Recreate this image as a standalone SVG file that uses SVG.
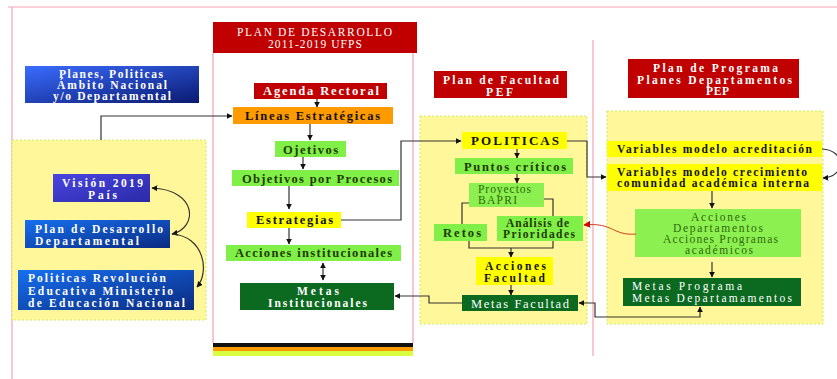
<svg xmlns="http://www.w3.org/2000/svg" width="837" height="379" viewBox="0 0 837 379">
<defs>
<linearGradient id="gBlue" x1="0" y1="0" x2="1" y2="1"><stop offset="0" stop-color="#3a6cff"/><stop offset="1" stop-color="#0a1a70"/></linearGradient>
<linearGradient id="gBlue2" x1="0" y1="0" x2="1" y2="1"><stop offset="0" stop-color="#1670f0"/><stop offset="1" stop-color="#0b2a80"/></linearGradient>
<linearGradient id="gViolet" x1="0" y1="0" x2="1" y2="1"><stop offset="0" stop-color="#4a44e0"/><stop offset="1" stop-color="#2a2aa8"/></linearGradient>
<marker id="ah" viewBox="0 0 10 10" refX="9" refY="5" markerWidth="6" markerHeight="6" orient="auto-start-reverse" markerUnits="userSpaceOnUse"><path d="M0,0 L10,5 L0,10 z" fill="#111"/></marker>
<marker id="ahr" viewBox="0 0 10 10" refX="9" refY="5" markerWidth="7" markerHeight="7" orient="auto" markerUnits="userSpaceOnUse"><path d="M0,0 L10,5 L0,10 z" fill="#d00000"/></marker>
<style>
text{font-family:"Liberation Serif","Times New Roman",serif;font-size:11.5px;font-weight:bold}
.s{font-size:12.5px}
.w{fill:#fff}
.k{fill:#111}
.dg{fill:#1f3a00}
.lg{fill:#2e6a0a;font-weight:normal}
.red{fill:#c00000}
.org{fill:#ff9a00}
.grn{fill:#80f048}
.lgrn{fill:#8cf050}
.ylw{fill:#ffff00}
.dk{fill:#0b6a20}
.zone{fill:#fff799;stroke:#c8ee60;stroke-width:1;stroke-dasharray:2 2}
.pink{stroke:#f4a4b4;stroke-width:1.2;fill:none}
.c{fill:none;stroke:#333;stroke-width:1.2}
</style>
</defs>
<rect width="837" height="379" fill="#fff"/>
<path class="pink" d="M8,7 H837 M12,7 V379" stroke="#f6c8d0"/>
<path class="pink" d="M213,53 V343 M413,53 V343 M593,40 V356"/>
<rect x="213" y="343" width="200" height="4" fill="#111"/>
<rect x="213" y="347" width="200" height="4" fill="#ff9a00"/>
<rect x="213" y="351" width="200" height="5" fill="#d8ff40"/>
<rect class="zone" x="12" y="140" width="194" height="180"/>
<rect class="zone" x="420" y="116" width="167" height="208"/>
<rect class="zone" x="607" y="111" width="216" height="213"/>

<g id="n-planes"><rect x="25" y="66" width="174" height="37" fill="url(#gBlue)"/>
<text class="w" x="59" y="78" textLength="104" lengthAdjust="spacing">Planes, Politicas</text>
<text class="w" x="57" y="89" textLength="110" lengthAdjust="spacing">Ámbito Nacional</text>
<text class="w" x="53" y="100" textLength="118" lengthAdjust="spacing">y/o Departamental</text></g>
<g id="n-vision"><rect x="53" y="174" width="97" height="28" fill="url(#gViolet)"/>
<text class="w" x="62" y="187" textLength="81" lengthAdjust="spacing">Visión 2019</text>
<text class="w" x="88" y="199" textLength="29" lengthAdjust="spacing">País</text></g>
<g id="n-plandep"><rect x="25" y="220" width="145" height="28" fill="url(#gBlue2)"/>
<text class="w" x="35" y="233" textLength="128" lengthAdjust="spacing">Plan de Desarrollo</text>
<text class="w" x="35" y="245" textLength="104" lengthAdjust="spacing">Departamental</text></g>
<g id="n-politicasrev"><rect x="18" y="270" width="176" height="40" fill="url(#gBlue2)"/>
<text class="w" x="28" y="282" textLength="138" lengthAdjust="spacing">Politicas Revolución</text>
<text class="w" x="28" y="295" textLength="145" lengthAdjust="spacing">Educativa Ministerio</text>
<text class="w" x="28" y="307" textLength="157" lengthAdjust="spacing">de Educación Nacional</text></g>

<g id="n-plandes"><rect class="red" x="213" y="22" width="204" height="31"/>
<text class="w" x="237" y="36" style="font-weight:normal" textLength="155" lengthAdjust="spacing">PLAN DE DESARROLLO</text>
<text class="w" x="268" y="48" style="font-weight:normal" textLength="94" lengthAdjust="spacing">2011-2019  UFPS</text></g>
<g id="n-agenda"><rect class="red" x="254" y="83" width="133" height="16"/>
<text class="w s" x="263" y="95" textLength="116" lengthAdjust="spacing">Agenda Rectoral</text></g>
<g id="n-lineas"><rect class="org" x="233" y="107" width="160" height="17"/>
<text class="k s" x="245" y="120" textLength="135" lengthAdjust="spacing">Líneas Estratégicas</text></g>
<g id="n-ojetivos"><rect class="grn" x="275" y="141" width="71" height="16"/>
<text class="dg s" x="283" y="154" textLength="55" lengthAdjust="spacing">Ojetivos</text></g>
<g id="n-objproc"><rect class="grn" x="232" y="170" width="167" height="16"/>
<text class="dg s" x="242" y="183" textLength="150" lengthAdjust="spacing">Objetivos por Procesos</text></g>
<g id="n-estrategias"><rect class="ylw" x="247" y="212" width="94" height="16"/>
<text class="k s" x="256" y="224" textLength="77" lengthAdjust="spacing">Estrategias</text></g>
<g id="n-accinst"><rect class="grn" x="226" y="245" width="175" height="16"/>
<text class="dg s" x="235" y="257" textLength="157" lengthAdjust="spacing">Acciones institucionales</text></g>
<g id="n-metasinst"><rect class="dk" x="240" y="283" width="154" height="27"/>
<text class="w" x="297" y="295" textLength="42" lengthAdjust="spacing">Metas</text>
<text class="w" x="268" y="307" textLength="99" lengthAdjust="spacing">Institucionales</text></g>

<g id="n-planfac"><rect class="red" x="434" y="71" width="133" height="27"/>
<text class="w" x="443" y="84" textLength="116" lengthAdjust="spacing">Plan de Facultad</text>
<text class="w" x="486" y="96" textLength="27" lengthAdjust="spacing">PEF</text></g>
<g id="n-politicas"><rect class="ylw" x="462" y="132" width="105" height="17"/>
<text class="k" x="471" y="145" style="font-size:13px" textLength="88" lengthAdjust="spacing">POLITICAS</text></g>
<g id="n-puntos"><rect class="grn" x="455" y="158" width="118" height="16"/>
<text class="dg s" x="464" y="171" textLength="102" lengthAdjust="spacing">Puntos críticos</text></g>
<g id="n-bapri"><rect class="lgrn" x="469" y="183" width="75" height="24"/>
<text class="lg" x="478" y="193" textLength="53" lengthAdjust="spacing">Proyectos</text>
<text class="lg" x="478" y="204" textLength="39" lengthAdjust="spacing">BAPRI</text></g>
<g id="n-retos"><rect class="grn" x="434" y="224" width="53" height="17"/>
<text class="dg s" x="443" y="237" textLength="38" lengthAdjust="spacing">Retos</text></g>
<g id="n-analisis"><rect class="grn" x="497" y="216" width="86" height="25"/>
<text class="dg" x="506" y="227" textLength="63" lengthAdjust="spacing">Análisis de</text>
<text class="dg" x="503" y="238" textLength="72" lengthAdjust="spacing">Prioridades</text></g>
<g id="n-accfac"><rect class="ylw" x="476" y="257" width="77" height="28"/>
<text class="k" x="485" y="270" textLength="61" lengthAdjust="spacing">Acciones</text>
<text class="k" x="484" y="282" textLength="61" lengthAdjust="spacing">Facultad</text></g>
<g id="n-metasfac"><rect class="dk" x="462" y="295" width="116" height="16"/>
<text class="w s" x="471" y="308" style="font-weight:normal" textLength="98" lengthAdjust="spacing">Metas Facultad</text></g>

<g id="n-planprog"><rect class="red" x="628" y="59" width="171" height="39"/>
<text class="w" x="653" y="72" textLength="125" lengthAdjust="spacing">Plan de Programa</text>
<text class="w" x="637" y="84" textLength="155" lengthAdjust="spacing">Planes Departamentos</text>
<text class="w" x="706" y="95" textLength="23" lengthAdjust="spacing">PEP</text></g>
<g id="n-varacred"><rect class="ylw" x="607" y="141" width="215" height="16"/>
<text class="k" x="617" y="153" textLength="195" lengthAdjust="spacing">Variables modelo acreditación</text></g>
<g id="n-varcrec"><rect class="ylw" x="607" y="164" width="215" height="27"/>
<text class="k" x="617" y="176" textLength="190" lengthAdjust="spacing">Variables modelo crecimiento</text>
<text class="k" x="617" y="187" textLength="192" lengthAdjust="spacing">comunidad académica interna</text></g>
<g id="n-accdep"><rect class="lgrn" x="635" y="209" width="166" height="48"/>
<text class="lg" x="691" y="221" textLength="55" lengthAdjust="spacing">Acciones</text>
<text class="lg" x="673" y="232" textLength="90" lengthAdjust="spacing">Departamentos</text>
<text class="lg" x="663" y="243" textLength="115" lengthAdjust="spacing">Acciones Programas</text>
<text class="lg" x="685" y="254" textLength="68" lengthAdjust="spacing">académicos</text></g>
<g id="n-metasprog"><rect class="dk" x="623" y="278" width="178" height="28"/>
<text class="w" x="632" y="290" style="font-weight:normal" textLength="110" lengthAdjust="spacing">Metas  Programa</text>
<text class="w" x="632" y="302" style="font-weight:normal" textLength="160" lengthAdjust="spacing">Metas Departamamentos</text></g>

<g id="connectors">
<path class="c" marker-end="url(#ah)" d="M101,140 V116 H232"/>
<path class="c" marker-end="url(#ah)" d="M317,99 V107"/>
<path class="c" marker-end="url(#ah)" d="M310,124 V140"/>
<path class="c" marker-end="url(#ah)" d="M303,157 V169"/>
<path class="c" marker-end="url(#ah)" d="M289,186 V209"/>
<path class="c" marker-end="url(#ah)" d="M341,220 H401 V141 H461"/>
<path class="c" marker-end="url(#ah)" d="M289,228 V244"/>
<path class="c" marker-start="url(#ah)" marker-end="url(#ah)" d="M323,263 V280"/>
<path class="c" marker-end="url(#ah)" d="M462,303 H429 V296 H395"/>
<path class="c" marker-end="url(#ah)" d="M567,141 H587 V177 H606"/>
<path class="c" marker-end="url(#ah)" d="M517,149 V158"/>
<path class="c" marker-end="url(#ah)" d="M517,174 V183"/>
<path class="c" d="M469,203 H462 V224"/>
<path class="c" d="M544,199 H553 V216"/>
<path class="c" d="M469,241 V248 H553 V241"/>
<path class="c" marker-end="url(#ah)" d="M511,248 V257"/>
<path class="c" marker-end="url(#ah)" d="M511,285 V295"/>
<path class="c" marker-start="url(#ah)" marker-end="url(#ah)" d="M579,303 H595 V317 H700 V307"/>
<path class="c" marker-end="url(#ah)" d="M712,191 V208"/>
<path class="c" marker-end="url(#ah)" d="M712,262 V277"/>
<path fill="none" stroke="#d04020" stroke-width="1" marker-end="url(#ahr)" d="M636,234 C612,236 614,222 584,225"/>
<path class="c" stroke-width="1" marker-end="url(#ah)" d="M822,149 C846,150 846,177 823,178"/>
<path class="c" stroke-width="1" marker-start="url(#ah)" marker-end="url(#ah)" d="M172,234 C198,228 198,190 152,188"/>
<path class="c" stroke-width="1" marker-end="url(#ah)" d="M172,234 C204,236 210,272 197,287"/>
</g>
</svg>
